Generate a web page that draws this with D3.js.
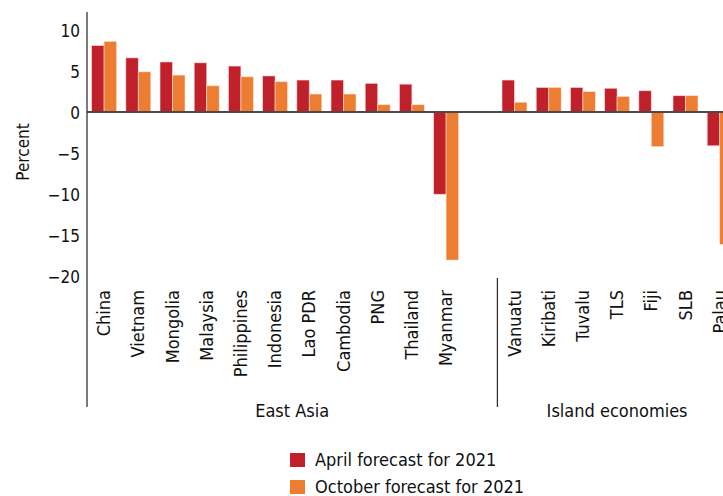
<!DOCTYPE html>
<html>
<head>
<meta charset="utf-8">
<script src="https://cdn.jsdelivr.net/npm/d3@7"></script>
<style>
  body { margin: 0; background: #fff; }
  #chart text { font-family: "DejaVu Sans Condensed", "DejaVu Sans", sans-serif; fill: #111; }
</style>
</head>
<body>
<div id="chart"></div>
<script>
// categories ("" is the empty slot between the two groups)
const countries = ["China", "Vietnam", "Mongolia", "Malaysia", "Philippines", "Indonesia",
  "Lao PDR", "Cambodia", "PNG", "Thailand", "Myanmar", "",
  "Vanuatu", "Kiribati", "Tuvalu", "TLS", "Fiji", "SLB", "Palau"];
const april = [8.1, 6.6, 6.1, 6.0, 5.6, 4.4, 3.9, 3.9, 3.5, 3.4, -10.0, null,
  3.9, 3.0, 3.0, 2.9, 2.6, 2.0, -4.1];
const october = [8.6, 4.9, 4.5, 3.2, 4.3, 3.7, 2.2, 2.2, 0.9, 0.9, -18.0, null,
  1.2, 3.0, 2.5, 1.9, -4.2, 2.0, -16.1];
const seriesNames = ["April forecast for 2021", "October forecast for 2021"];
const groupNames = ["East Asia", "Island economies"];
const groupSizes = [12, 7];
const yTicks = [10, 5, 0, -5, -10, -15, -20];

const colors = ["#C0202A", "#ED7D31"];
const width = 723, height = 496;

const svg = d3.select("#chart").append("svg")
    .attr("width", width)
    .attr("height", height);

const x0 = 87, step = 34.2;
const xScale = d3.scaleBand()
    .domain(d3.range(countries.length))
    .range([x0, x0 + step * countries.length])
    .paddingInner(0.27)
    .paddingOuter(0.135);

const xSub = d3.scaleBand()
    .domain([0, 1])
    .range([0, xScale.bandwidth()]);

const yScale = d3.scaleLinear()
    .domain([-20, 10])
    .range([276.5, 29.9]);

// y axis labels (no tick marks, no domain line)
const yAxis = d3.axisLeft(yScale)
    .tickValues(yTicks)
    .tickSize(0)
    .tickPadding(7)
    .tickFormat(d => d < 0 ? "\u2212" + Math.abs(d) : d);

svg.append("g")
    .attr("class", "y axis")
    .attr("transform", "translate(" + x0 + ",0)")
    .call(yAxis)
    .call(g => g.select(".domain").remove())
    .selectAll("text")
    .attr("font-size", 17)
    .attr("dy", "0.36em");

svg.append("text")
    .attr("transform", "translate(29,152) rotate(-90)")
    .attr("text-anchor", "middle")
    .attr("font-size", 17)
    .text("Percent");

// bars
const rows = [];
countries.forEach((c, i) => {
  [april[i], october[i]].forEach((v, s) => {
    if (v !== null) rows.push({ i: i, s: s, v: v });
  });
});

svg.selectAll(".bar")
    .data(rows)
    .enter()
    .append("rect")
    .attr("class", "bar")
    .attr("x", d => xScale(d.i) + xSub(d.s))
    .attr("width", xSub.bandwidth())
    .attr("y", d => yScale(Math.max(0, d.v)))
    .attr("height", d => Math.abs(yScale(d.v) - yScale(0)))
    .attr("fill", d => colors[d.s])
    .attr("stroke", "rgba(255,230,225,0.7)")
    .attr("stroke-width", 0.8);

// zero line
svg.append("line")
    .attr("x1", x0)
    .attr("x2", width)
    .attr("y1", yScale(0))
    .attr("y2", yScale(0))
    .attr("stroke", "#4a4a4a")
    .attr("stroke-width", 2);

// left axis line
svg.append("line")
    .attr("x1", x0).attr("x2", x0)
    .attr("y1", 12).attr("y2", 407)
    .attr("stroke", "#333")
    .attr("stroke-width", 1.3);

// category labels
svg.selectAll(".cat")
    .data(countries)
    .enter()
    .append("text")
    .attr("class", "cat")
    .attr("transform", (d, i) => "translate(" + (xScale(i) + xScale.bandwidth() / 2 + 6) + ",290) rotate(-90)")
    .attr("text-anchor", "end")
    .attr("font-size", 18)
    .text(d => d);

// group labels and separators
let start = 0;
groupNames.forEach((g, k) => {
  const gx0 = x0 + step * start;
  const gx1 = x0 + step * (start + groupSizes[k]);
  if (k > 0) {
    svg.append("line")
        .attr("x1", gx0).attr("x2", gx0)
        .attr("y1", 278).attr("y2", 407)
        .attr("stroke", "#333")
        .attr("stroke-width", 1.3);
  }
  svg.append("text")
      .attr("x", (gx0 + gx1) / 2)
      .attr("y", 417)
      .attr("text-anchor", "middle")
      .attr("font-size", 18)
      .text(g);
  start += groupSizes[k];
});

// legend
const legend = svg.append("g")
    .attr("transform", "translate(290,453)");

seriesNames.forEach((name, s) => {
  legend.append("rect")
      .attr("x", 0)
      .attr("y", s * 27)
      .attr("width", 15)
      .attr("height", 14)
      .attr("fill", colors[s]);
  legend.append("text")
      .attr("x", 25)
      .attr("y", s * 27 + 7)
      .attr("dy", "0.36em")
      .attr("font-size", 18)
      .text(name);
});
</script>
</body>
</html>
